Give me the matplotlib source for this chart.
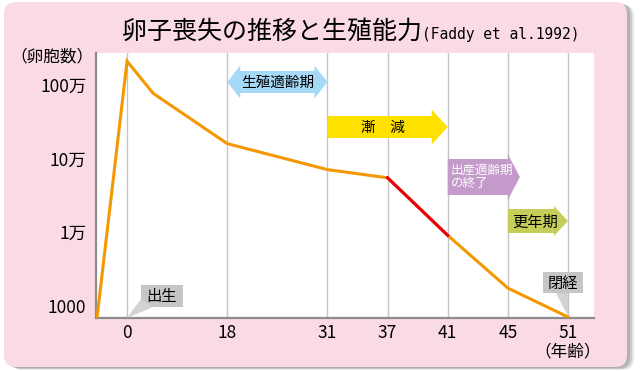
import matplotlib
matplotlib.use("Agg")
import matplotlib.pyplot as plt
import matplotlib.patches as mpatches
import numpy as np

plt.rcParams['font.family'] = ['Noto Sans CJK JP', 'DejaVu Sans']

# age axis is not linear: each labelled age sits on its own slot
axis_ages = [-0.75, 0, 18, 31, 37, 41, 45, 51]
axis_slots = [-1.5, 0, 5, 10, 13, 16, 19, 22]
tick_ages = [0, 18, 31, 37, 41, 45, 51]

# oocyte count
ages = [-0.75, 0, 4.7, 18, 31, 37, 41, 45, 51]
counts = [690, 2.1e6, 7.7e5, 1.6e5, 7.1e4, 5.5e4, 9.1e3, 1.75e3, 710]
red_from, red_to = 37, 41

ytick_vals = [1e3, 1e4, 1e5, 1e6]
ytick_labels = ['1000', '1万', '10万', '100万']

W, H = 640, 371


def slot(a):
    return np.interp(a, axis_ages, axis_slots)


fig = plt.figure(figsize=(W / 100, H / 100), dpi=100)

# pink panel background
bg = fig.add_axes([0, 0, 1, 1], zorder=0)
bg.set_xlim(0, W); bg.set_ylim(H, 0); bg.axis('off')
for off, a in [(7, 0.25), (5, 0.35), (3, 0.5)]:
    bg.add_patch(mpatches.FancyBboxPatch((4 + off, 2 + off * 0.4), 623, 365,
                 boxstyle="round,pad=0,rounding_size=12", fc='#999999', ec='none', alpha=a))
bg.add_patch(mpatches.FancyBboxPatch((4, 2), 623, 365,
             boxstyle="round,pad=0,rounding_size=12", fc='#F9DAE6', ec='none'))

ax = fig.add_axes([96 / W, 1 - 318 / H, 498 / W, 265 / H], zorder=1)
ax.set_facecolor('white')
x = slot(ages)
ax.plot(x, counts, color='#F39800', lw=2.2, solid_joinstyle='miter', zorder=3)
sel = [i for i, a in enumerate(ages) if red_from <= a <= red_to]
ax.plot(x[sel], [counts[i] for i in sel], color='#E60012', lw=2.2, zorder=4)
ax.set_yscale('log')
ax.set_ylim(687, 2.72e6)
ax.set_xlim(-1.55, 23.3)
ax.set_yticks(ytick_vals, ytick_labels, fontsize=12.5)
ax.yaxis.set_minor_locator(matplotlib.ticker.NullLocator())
ax.set_xticks(slot(tick_ages), [str(t) for t in tick_ages], fontsize=12.5)
ax.tick_params(length=0, pad=4)
ax.tick_params(axis='y', pad=7)
ax.grid(axis='x', color='#C4C4C4', lw=1)
ax.set_axisbelow(True)
for s in ['top', 'right']:
    ax.spines[s].set_visible(False)
for s in ['left', 'bottom']:
    ax.spines[s].set_color('#8C8C8C')
    ax.spines[s].set_linewidth(1.6)

# overlay for labels and arrows, in pixel coordinates
ov = fig.add_axes([0, 0, 1, 1], zorder=2)
ov.set_xlim(0, W); ov.set_ylim(H, 0); ov.axis('off'); ov.patch.set_alpha(0)


def px(age):
    return ax.transData.transform((slot(age), 1e4))[0]


def arrow(x0, x1, yc, bh, hh, hl, color, double=False):
    pts = [(x1 - hl, yc - bh / 2), (x1 - hl, yc - hh / 2), (x1, yc),
           (x1 - hl, yc + hh / 2), (x1 - hl, yc + bh / 2)]
    if double:
        pts += [(x0 + hl, yc + bh / 2), (x0 + hl, yc + hh / 2), (x0, yc),
                (x0 + hl, yc - hh / 2), (x0 + hl, yc - bh / 2)]
    else:
        pts += [(x0, yc + bh / 2), (x0, yc - bh / 2)]
    ov.add_patch(mpatches.Polygon(pts, closed=True, fc=color, ec='none'))


arrow(px(18), px(31), 82, 22, 33, 13, '#A6D9F7', double=True)
ov.text((px(18) + px(31)) / 2, 83, '生殖適齢期', ha='center', va='center', fontsize=10.5)
arrow(px(31), px(41), 127, 22, 35, 16, '#FFE100')
ov.text(383, 128, '漸　減', ha='center', va='center', fontsize=10.5)
arrow(px(41), px(45) + 12, 177, 36, 46, 12, '#C49ACB')
ov.text(px(41) + 3, 177, '出産適齢期\nの終了', ha='left', va='center', fontsize=9,
        color='white', linespacing=1.05)
arrow(px(45), px(51), 221, 24, 30, 14, '#C6CE5A')
ov.text(535, 222, '更年期', ha='center', va='center', fontsize=11)

# callouts
gray = '#C6C6C6'
ov.add_patch(mpatches.Rectangle((141, 285), 42, 22, fc=gray, ec='none'))
ov.add_patch(mpatches.Polygon([(px(0), 318), (141, 299), (153, 307)], fc='#D2D2D2', ec='none'))
ov.text(162, 296, '出生', ha='center', va='center', fontsize=11)
ov.add_patch(mpatches.Rectangle((543, 272), 40, 21, fc=gray, ec='none'))
ov.add_patch(mpatches.Polygon([(556, 293), (px(51), 293), (px(51), 316)], fc='#D2D2D2', ec='none'))
ov.text(563, 283, '閉経', ha='center', va='center', fontsize=11)

# titles and axis captions
ov.text(122, 32, '卵子喪失の推移と生殖能力', ha='left', va='center', fontsize=18)
ov.text(422, 34, '(Faddy et al.1992)', ha='left', va='center', fontsize=10.5,
        family='DejaVu Sans Mono')
ov.text(93, 57, '（卵胞数）', ha='right', va='center', fontsize=12)
ov.text(px(51), 352, '（年齢）', ha='center', va='center', fontsize=12)

fig.savefig('out.png', dpi=100)
